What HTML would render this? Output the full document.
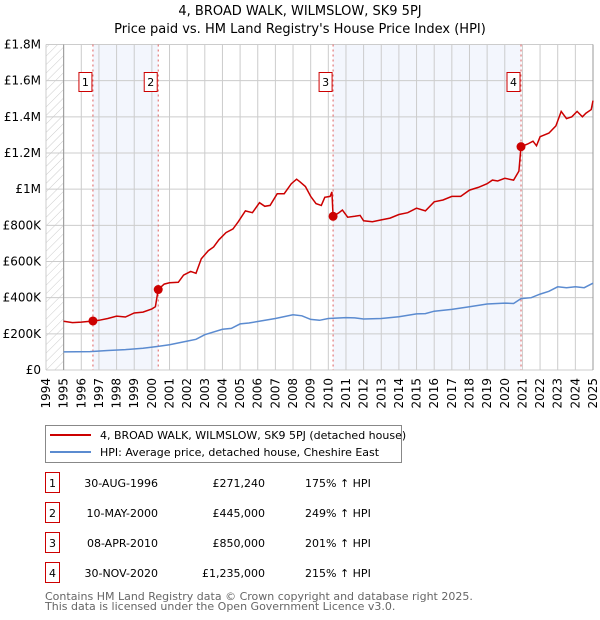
<!DOCTYPE html>
<html><head><meta charset="utf-8"><style>
body{margin:0;background:#fff;font-family:"DejaVu Sans","Liberation Sans",sans-serif;}
svg{display:block}
</style></head><body>
<svg width="600" height="620" xmlns="http://www.w3.org/2000/svg">
<defs><pattern id="hatch" width="6" height="6" patternUnits="userSpaceOnUse" patternTransform="rotate(45)"><line x1="0" y1="0" x2="0" y2="6" stroke="#ccc" stroke-width="1"/></pattern></defs>
<text x="300" y="15" text-anchor="middle" font-size="13">4, BROAD WALK, WILMSLOW, SK9 5PJ</text>
<text x="300" y="33" text-anchor="middle" font-size="13">Price paid vs. HM Land Registry's House Price Index (HPI)</text>
<g id="plot"></g>
<g>
<rect x="45.5" y="425.5" width="356" height="37" fill="#fff" stroke="#888"/>
<line x1="50" y1="435" x2="91" y2="435" stroke="#cc0000" stroke-width="2"/>
<text x="100" y="439" font-size="11">4, BROAD WALK, WILMSLOW, SK9 5PJ (detached house)</text>
<line x1="50" y1="452" x2="91" y2="452" stroke="#5b8bd0" stroke-width="2"/>
<text x="100" y="456" font-size="11">HPI: Average price, detached house, Cheshire East</text>
</g>
<g id="table" font-size="11"></g>
<text x="45" y="600" font-size="11" fill="#666">Contains HM Land Registry data © Crown copyright and database right 2025.</text>
<text x="45" y="610" font-size="11" fill="#666">This data is licensed under the Open Government Licence v3.0.</text>
</svg>
<script>
const redYears=[1995,1995.5,1996,1996.66,1997,1997.5,1998,1998.5,1999,1999.5,2000,2000.2,2000.36,2000.7,2001,2001.5,2001.8,2002.2,2002.5,2002.8,2003.2,2003.5,2003.8,2004.2,2004.6,2004.9,2005.3,2005.7,2006.1,2006.4,2006.7,2007.1,2007.5,2007.9,2008.2,2008.4,2008.7,2009,2009.3,2009.6,2009.8,2010.1,2010.2,2010.27,2010.6,2010.8,2011.1,2011.5,2011.8,2012,2012.5,2013,2013.5,2014,2014.5,2015,2015.5,2016,2016.5,2017,2017.5,2018,2018.5,2019,2019.3,2019.6,2020,2020.5,2020.8,2020.92,2021.3,2021.6,2021.8,2022,2022.5,2022.9,2023.2,2023.5,2023.8,2024.1,2024.4,2024.6,2024.9,2025];
const redValues=[270,262,265,271,275,285,298,293,315,320,338,350,445,475,482,485,525,545,535,615,660,680,720,760,780,820,880,870,925,905,910,975,975,1030,1055,1040,1015,960,920,910,955,960,985,850,870,885,845,850,855,825,820,830,840,860,870,895,880,930,940,960,960,995,1010,1030,1050,1045,1060,1050,1100,1235,1250,1265,1240,1290,1310,1350,1430,1390,1400,1430,1400,1420,1440,1490];
const hpiYears=[1995,1996.5,1997.5,1998.5,1999.5,2000.3,2001,2002,2002.5,2003,2004,2004.5,2005,2005.5,2006,2007,2008,2008.5,2009,2009.5,2010,2011,2011.5,2012,2013,2014,2015,2015.5,2016,2017,2018,2019,2020,2020.5,2020.92,2021.5,2022,2022.5,2023,2023.5,2024,2024.5,2025];
const hpiValues=[100,102,108,113,120,130,140,160,170,195,225,230,255,260,268,285,305,300,280,275,285,290,288,282,285,295,310,312,325,335,350,365,370,368,395,400,420,435,460,455,460,455,480];
const saleLabels=["1","2","3","4"];
const saleYears=[1996.66,2000.36,2010.27,2020.92];
const saleValues=[271.24,445,850,1235];
const saleDates=["30-AUG-1996","10-MAY-2000","08-APR-2010","30-NOV-2020"];
const salePrices=["£271,240","£445,000","£850,000","£1,235,000"];
const saleHpi=["175% ↑ HPI","249% ↑ HPI","201% ↑ HPI","215% ↑ HPI"];
const yTicks=[0,200,400,600,800,1000,1200,1400,1600,1800];
const yTickLabels=["£0","£200K","£400K","£600K","£800K","£1M","£1.2M","£1.4M","£1.6M","£1.8M"];
const xTicks=[1994,1995,1996,1997,1998,1999,2000,2001,2002,2003,2004,2005,2006,2007,2008,2009,2010,2011,2012,2013,2014,2015,2016,2017,2018,2019,2020,2021,2022,2023,2024,2025];

const X0=46,X1=593,Y0=370,Y1=44.5;
const xs=y=>X0+(y-1994)/(2025-1994)*(X1-X0);
const ys=v=>Y0-v/1800*(Y0-Y1);
const NS="http://www.w3.org/2000/svg";
const plot=document.getElementById('plot');
function mk(tag,attrs,parent){const e=document.createElementNS(NS,tag);for(const k in attrs)e.setAttribute(k,attrs[k]);(parent||plot).appendChild(e);return e;}
let e;
e=mk('rect',{x:X0,y:Y1,width:X1-X0,height:Y0-Y1,fill:'#fff'});


e=mk('rect',{x:X0,y:Y1,width:xs(1995)-X0,height:Y0-Y1,fill:'url(#hatch)'});


[[0,1],[2,3]].forEach(p=>{
 e=mk('rect',{x:xs(saleYears[p[0]]),y:Y1,width:xs(saleYears[p[1]])-xs(saleYears[p[0]]),height:Y0-Y1,fill:'#f3f6fd'});
 
 
});
xTicks.forEach(t=>{
 e=mk('line',{x1:xs(t),x2:xs(t),y1:Y1,y2:Y0,stroke:'#ccc','stroke-width':1});
 
 
 e=mk('text',{x:0,y:0,'font-size':12,'text-anchor':'end',transform:`translate(${xs(t)+4},${Y0+8}) rotate(-90)`});
 e.textContent=t;
 
 
});
yTicks.forEach((t,i)=>{
 e=mk('line',{x1:X0,x2:X1,y1:ys(t),y2:ys(t),stroke:'#ccc','stroke-width':1});
 
 
 e=mk('text',{x:X0-5,y:ys(t)+4,'font-size':12,'text-anchor':'end'});
 e.textContent=yTickLabels[i];
 
 
});
e=mk('line',{x1:xs(1995),x2:xs(1995),y1:Y1,y2:Y0,stroke:'#999'});


e=mk('line',{x1:X1,x2:X1,y1:Y1,y2:Y0,stroke:'#999'});


saleYears.forEach((y,i)=>{
 e=mk('line',{x1:xs(y),x2:xs(y),y1:Y1,y2:Y0,stroke:'#e06060','stroke-dasharray':'2,3','stroke-width':1});
 
 
 const g=mk('g',{});
 
 
 mk('rect',{x:xs(y)-14,y:72.5,width:13,height:19,fill:'#fff',stroke:'#cc0000'},g);
 const t=mk('text',{x:xs(y)-7.5,y:86,'font-size':11,'text-anchor':'middle'},g);t.textContent=saleLabels[i];
});
const path=(xa,va)=>xa.map((x,i)=>(i?'L':'M')+xs(x).toFixed(1)+','+ys(va[i]).toFixed(1)).join('');
e=mk('path',{d:path(hpiYears,hpiValues),fill:'none',stroke:'#5b8bd0','stroke-width':1.5});


e=mk('path',{d:path(redYears,redValues),fill:'none',stroke:'#cc0000','stroke-width':1.5});


saleYears.forEach((y,i)=>{
 e=mk('circle',{cx:xs(y),cy:ys(saleValues[i]),r:4.5,fill:'#cc0000'});
 
 
});
const tb=document.getElementById('table');
saleLabels.forEach((l,i)=>{
 const cy=483+i*30;
 const g=mk('g',{},tb);
 
 
 mk('rect',{x:45.5,y:cy-10.5,width:14,height:20,fill:'#fff',stroke:'#cc0000'},g);
 let t=mk('text',{x:52.5,y:cy+4,'text-anchor':'middle'},g);t.textContent=l;
 t=mk('text',{x:158,y:cy+4,'text-anchor':'end'},g);t.textContent=saleDates[i];
 t=mk('text',{x:265,y:cy+4,'text-anchor':'end'},g);t.textContent=salePrices[i];
 t=mk('text',{x:305,y:cy+4},g);t.textContent=saleHpi[i];
});
</script>
</body></html>
